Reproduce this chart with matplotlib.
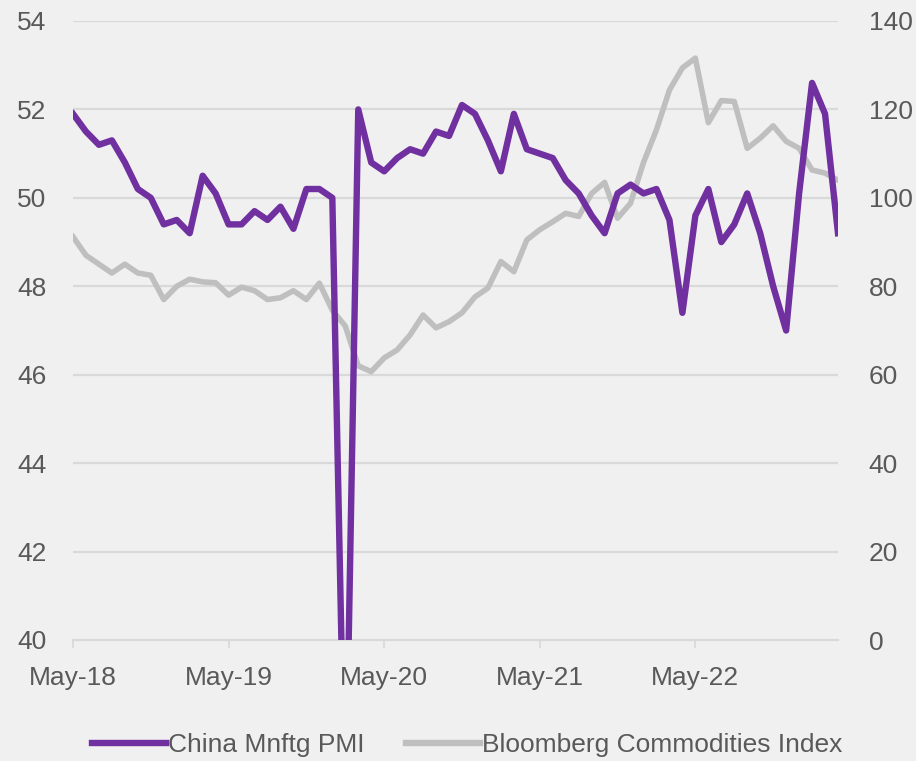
import matplotlib.pyplot as plt
from matplotlib.lines import Line2D

plt.rcParams['font.family'] = ['Liberation Sans', 'DejaVu Sans']

# monthly data, May-18 .. Apr-23
meses = ['May-18', 'May-19', 'May-20', 'May-21', 'May-22']
pmi = [51.9, 51.5, 51.2, 51.3, 50.8, 50.2, 50.0, 49.4,
       49.5, 49.2, 50.5, 50.1, 49.4, 49.4, 49.7, 49.5, 49.8, 49.3, 50.2, 50.2,
       50.0, 35.7, 52.0, 50.8, 50.6, 50.9, 51.1, 51.0, 51.5, 51.4, 52.1, 51.9,
       51.3, 50.6, 51.9, 51.1, 51.0, 50.9, 50.4, 50.1, 49.6, 49.2, 50.1, 50.3,
       50.1, 50.2, 49.5, 47.4, 49.6, 50.2, 49.0, 49.4, 50.1, 49.2, 48.0, 47.0,
       50.1, 52.6, 51.9, 49.2]
bcom = [91.2, 87.0, 85.0, 83.0, 85.0, 83.0, 82.5, 77.0,
        80.0, 81.6, 81.0, 80.8, 78.0, 79.8, 79.0, 77.0, 77.4, 79.0, 77.0, 80.7,
        74.6, 71.0, 62.0, 60.7, 63.8, 65.6, 69.0, 73.5, 70.6, 72.0, 74.0, 77.6,
        79.6, 85.6, 83.3, 90.5, 92.8, 94.6, 96.5, 95.8, 101.0, 103.5, 95.4, 98.8,
        108.0, 115.4, 124.4, 129.4, 131.6, 117.0, 122.0, 121.8, 111.2, 113.5, 116.3, 112.8,
        111.2, 106.3, 105.6, 104.0]

morado = '#7030A0'
gris = '#BFBFBF'
texto = '#595959'
fondo = '#F0F0F0'

fig = plt.figure(figsize=(9.16, 7.61), dpi=100, facecolor=fondo)
ax = fig.add_axes([73/916, 1-640/761, (838-73)/916, (640-21)/761])
ax.set_facecolor(fondo)
ax2 = ax.twinx()

x = list(range(len(pmi)))
ax2.plot(x, bcom, color=gris, lw=4.0, solid_joinstyle='round', zorder=2)
ax.plot(x, pmi, color=morado, lw=4.6, solid_joinstyle='round', zorder=3)
ax.set_zorder(ax2.get_zorder() + 1)
ax.patch.set_visible(False)
ax2.patch.set_visible(True)
ax2.patch.set_facecolor(fondo)

ax.set_xlim(0, len(pmi) - 1)
ax.set_ylim(40, 54)
ax2.set_ylim(0, 140)
ax.set_yticks(range(40, 55, 2))
ax2.set_yticks(range(0, 141, 20))
ax.set_xticks(range(0, 60, 12))
ax.set_xticklabels(meses)

for v in range(42, 55, 2):
    ax2.axhline((v - 40) * 10, color='#D9D9D9', lw=1.6, zorder=1)

for a in (ax, ax2):
    for s in a.spines.values():
        s.set_visible(False)
ax.spines['bottom'].set_visible(True)
ax.spines['bottom'].set_color('#D9D9D9')
ax.spines['bottom'].set_linewidth(1.6)

ax.tick_params(axis='y', length=0, pad=19, labelsize=19, labelcolor=texto)
ax2.tick_params(axis='y', length=0, pad=22, labelsize=19, labelcolor=texto)
ax.tick_params(axis='x', length=6, width=1.2, color='#D9D9D9', pad=13,
               labelsize=19, labelcolor=texto)

handles = [Line2D([], [], color=morado, lw=4.6),
           Line2D([], [], color=gris, lw=4.6)]
fig.legend(handles, ['China Mnftg PMI', 'Bloomberg Commodities Index'],
           loc='center', bbox_to_anchor=(0.51, 1-745/761), ncol=2, frameon=False,
           fontsize=19, labelcolor=texto, handlelength=2.8, handletextpad=0.05,
           columnspacing=1.6)

fig.savefig('out.png', dpi=100, facecolor=fondo)
